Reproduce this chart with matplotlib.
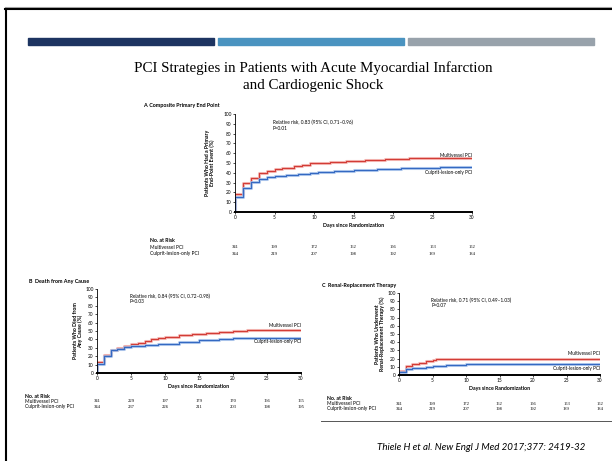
import matplotlib
matplotlib.use('Agg')
import matplotlib.pyplot as plt
from matplotlib.patches import Rectangle
from matplotlib.lines import Line2D
from matplotlib.transforms import blended_transform_factory

W, H = 612, 461
plt.rcParams['font.family'] = ['Lato', 'DejaVu Sans']

RED, RED_LT = '#d23c36', '#f2a6a2'
BLUE, BLUE_LT = '#3469c2', '#9dbce9'

# ---- data ----
days = [0, 5, 10, 15, 20, 25, 30]

a_multi_t = [0, 0, 1, 2, 3, 4, 5, 6, 7.5, 8.5, 9.5, 10.5, 12, 14, 16.5, 19, 22, 30]
a_multi_v = [0, 18, 30, 35, 40, 42, 44, 45, 46.5, 48, 49.5, 50.5, 51.5, 52.5, 53.5, 54.3, 55, 55]
a_culp_t = [0, 0, 1, 2, 3, 4, 5, 6.5, 8, 9.5, 10.5, 12.5, 15, 18, 21, 24, 26, 28, 30]
a_culp_v = [0, 15, 25, 31, 34, 36, 37, 37.5, 38.5, 39.5, 41, 42, 43, 44, 44.5, 45, 45.5, 46, 46]

b_multi_t = [0, 0, 1, 2, 3, 4, 5, 6, 7, 8, 9, 10, 12, 14, 16, 18, 20, 22, 30]
b_multi_v = [0, 13, 22, 27, 30, 32, 34, 36, 38, 40, 42, 43, 45, 47, 48, 49, 50, 51, 51]
b_culp_t = [0, 0, 1, 2, 3, 4, 5, 7, 9, 10, 12, 15, 18, 20, 25, 30]
b_culp_v = [0, 11, 20, 27, 29, 31, 32, 33, 34, 35, 37, 39, 41, 41.5, 42, 42]

c_multi_t = [0, 0, 1, 2, 3, 4, 5, 5.5, 10, 12, 30]
c_multi_v = [0, 5, 11, 14, 15, 17, 18, 19, 19.5, 20, 20]
c_culp_t = [0, 0, 1, 2, 3, 4, 5, 7, 10, 19, 30]
c_culp_v = [0, 4, 7, 8, 9, 10, 11, 12, 13, 14, 14]

a_risk_multi = [341, 199, 172, 162, 156, 153, 152]
a_risk_culp = [344, 219, 207, 198, 192, 189, 184]
b_risk_multi = [341, 229, 197, 179, 170, 166, 165]
b_risk_culp = [344, 237, 226, 211, 203, 198, 195]
c_risk_multi = [341, 199, 172, 162, 156, 153, 152]
c_risk_culp = [344, 219, 207, 198, 192, 189, 184]


def fx(x):
    return x / W


def fy(y):
    return 1 - y / H


fig = plt.figure(figsize=(W / 100, H / 100), dpi=100)

# slide frame
fig.add_artist(Line2D([fx(5), 1], [fy(7), fy(7)], color='#aaaaaa', lw=0.8))
fig.add_artist(Line2D([fx(5), 1], [fy(9.5), fy(9.5)], color='black', lw=1.5))
fig.add_artist(Line2D([fx(6), fx(6)], [fy(9), 0], color='black', lw=1.5))

# colour bars
for x0, x1, c in [(28, 214, '#1d3461'), (218, 404, '#4a93c0'), (408, 594, '#98a2ab')]:
    fig.add_artist(Rectangle((fx(x0), fy(45)), fx(x1 - x0), 6.7 / H,
                             color=c, transform=fig.transFigure))

fig.text(fx(313), fy(68), 'PCI Strategies in Patients with Acute Myocardial Infarction',
         family='Liberation Serif', fontsize=10.8, ha='center', va='center')
fig.text(fx(313), fy(85), 'and Cardiogenic Shock',
         family='Liberation Serif', fontsize=10.8, ha='center', va='center')


def panel(box, letter, title, title_xy, ylabel, ylab_x, rr, multi, culp,
          risk_multi, risk_culp, risk_x, risk_y, lab_y):
    left, right, top, bottom = box
    ax = fig.add_axes([fx(left), fy(bottom), fx(right - left), (bottom - top) / H])
    for (t, v), c, cl in [(multi, RED, RED_LT), (culp, BLUE, BLUE_LT)]:
        ax.step(t, v, where='post', color=cl, lw=2.2, alpha=0.8)
        ax.step(t, v, where='post', color=c, lw=0.8)
    ax.set_xlim(0, 30)
    ax.set_ylim(0, 100)
    ax.set_xticks(days)
    ax.set_yticks(range(0, 101, 10))
    ax.tick_params(labelsize=3.4, length=1.5, width=0.5, pad=1)
    for s in ['top', 'right']:
        ax.spines[s].set_visible(False)
    ax.spines['left'].set_linewidth(0.6)
    ax.spines['bottom'].set_linewidth(1.4)
    ax.patch.set_alpha(0)
    ax.set_xlabel('Days since Randomization', fontsize=3.8, fontweight='bold', labelpad=2)

    fig.text(fx(ylab_x), fy((top + bottom) / 2), ylabel, rotation=90, fontsize=3.8,
             fontweight='bold', ha='center', va='center', linespacing=1.1)
    fig.text(fx(title_xy[0]), fy(title_xy[1]), letter + '  ' + title, fontsize=3.9,
             fontweight='bold', va='center')

    ax.text(0.16, 0.91, rr[0], transform=ax.transAxes, fontsize=3.4, va='center')
    ax.text(0.16, 0.85, rr[1], transform=ax.transAxes, fontsize=3.4, va='center')
    ax.text(1.0, (multi[1][-1] + lab_y[0]) / 100, 'Multivessel PCI',
            transform=ax.transAxes, fontsize=3.4, ha='right', va='center')
    ax.text(1.0, (culp[1][-1] - lab_y[1]) / 100, 'Culprit-lesion-only PCI',
            transform=ax.transAxes, fontsize=3.4, ha='right', va='center')

    tr = blended_transform_factory(ax.transData, fig.transFigure)
    fig.text(fx(risk_x), fy(risk_y[0]), 'No. at Risk', fontsize=3.7,
             fontweight='bold', va='center')
    fig.text(fx(risk_x), fy(risk_y[1]), 'Multivessel PCI', fontsize=3.5, va='center')
    fig.text(fx(risk_x), fy(risk_y[2]), 'Culprit-lesion-only PCI', fontsize=3.5, va='center')
    for d, m, c in zip(days, risk_multi, risk_culp):
        ax.text(d, fy(risk_y[1]), str(m), transform=tr, fontsize=3.3, ha='center',
                va='center', family='Liberation Serif')
        ax.text(d, fy(risk_y[2]), str(c), transform=tr, fontsize=3.3, ha='center',
                va='center', family='Liberation Serif')
    return ax


panel((235, 472, 114, 212), 'A', 'Composite Primary End Point', (143, 106),
      'Patients Who Had a Primary\nEnd-Point Event (%)', 210,
      ('Relative risk, 0.83 (95% CI, 0.71\u20130.96)', 'P=0.01'),
      (a_multi_t, a_multi_v), (a_culp_t, a_culp_v),
      a_risk_multi, a_risk_culp, 150, (240, 247, 254), (3, 6))

panel((97, 301, 289, 373), 'B', 'Death from Any Cause', (29, 282),
      'Patients Who Died from\nAny Cause (%)', 78,
      ('Relative risk, 0.84 (95% CI, 0.72\u20130.98)', 'P=0.03'),
      (b_multi_t, b_multi_v), (b_culp_t, b_culp_v),
      b_risk_multi, b_risk_culp, 25, (396, 401.5, 406.5), (5, 5))

panel((399, 600, 293, 375), 'C', 'Renal-Replacement Therapy', (322, 285),
      'Patients Who Underwent\nRenal-Replacement Therapy (%)', 380,
      ('Relative risk, 0.71 (95% CI, 0.49\u20131.03)', 'P=0.07'),
      (c_multi_t, c_multi_v), (c_culp_t, c_culp_v),
      c_risk_multi, c_risk_culp, 327, (398, 403.5, 408.5), (6, 6))

fig.add_artist(Line2D([fx(321), 1], [fy(421), fy(421)], color='#555555', lw=0.7))

fig.text(fx(481), fy(447), 'Thiele H et al. New Engl J Med 2017;377: 2419-32',
         fontsize=7.0, style='italic', ha='center', va='center')

fig.savefig('out.png', dpi=100)
